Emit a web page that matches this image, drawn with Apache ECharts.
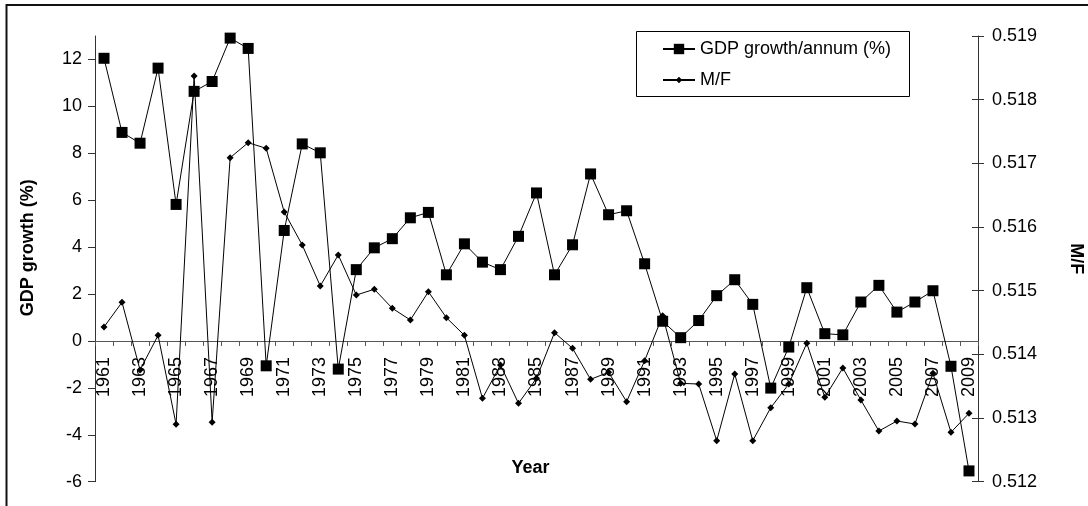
<!DOCTYPE html>
<html>
<head>
<meta charset="utf-8">
<style>
  html, body { margin: 0; padding: 0; background: #fff; }
  #chart { width: 1088px; height: 506px; }
</style>
<script src="https://cdn.jsdelivr.net/npm/echarts@6/dist/echarts.min.js"></script>
</head>
<body>
<div id="chart"></div>
<script>
// Years 1961-2009
const years = [];
for (let y = 1961; y <= 2009; y++) years.push(String(y));

// Annual GDP growth (%)
const gdpGrowth = [
  12.05, 8.89, 8.43, 11.63, 5.82, 10.64, 11.06, 12.91, 12.47, -1.06,
  4.71, 8.40, 8.02, -1.20, 3.04, 3.97, 4.36, 5.25, 5.48, 2.82,
  4.14, 3.36, 3.04, 4.46, 6.31, 2.82, 4.10, 7.12, 5.38, 5.55,
  3.29, 0.84, 0.14, 0.87, 1.93, 2.61, 1.56, -2.01, -0.26, 2.27,
  0.31, 0.26, 1.66, 2.37, 1.23, 1.66, 2.14, -1.08, -5.54
];

// Male / female ratio
const mfRatio = [
  0.514430, 0.514818, 0.513754, 0.514299, 0.512901, 0.518372, 0.512933, 0.517089, 0.517324, 0.517236,
  0.516236, 0.515718, 0.515074, 0.515561, 0.514932, 0.515022, 0.514723, 0.514540, 0.514984, 0.514576,
  0.514299, 0.513310, 0.513833, 0.513231, 0.513624, 0.514341, 0.514095, 0.513608, 0.513718, 0.513257,
  0.513900, 0.514607, 0.513545, 0.513534, 0.512644, 0.513692, 0.512644, 0.513162, 0.513534, 0.514174,
  0.513326, 0.513786, 0.513283, 0.512796, 0.512953, 0.512906, 0.513703, 0.512776, 0.513074
];

// Tick labels
const gdpTicks = [-6, -4, -2, 0, 2, 4, 6, 8, 10, 12];
const mfTicks = [0.512, 0.513, 0.514, 0.515, 0.516, 0.517, 0.518, 0.519];

const FONT = '"Liberation Sans", Arial, Helvetica, sans-serif';
const AXIS = '#333';

// Plot area and left-axis extent; the year axis is lifted to sit on GDP = 0
const GRID = { left: 95, right: 110, top: 36, bottom: 24.3 };
const GDP_MIN = -6, GDP_MAX = 13;
const plotHeight = 506 - GRID.top - GRID.bottom;
const zeroLift = plotHeight * (0 - GDP_MIN) / (GDP_MAX - GDP_MIN);

const chart = echarts.init(document.getElementById('chart'), null, { renderer: 'canvas' });

chart.setOption({
  backgroundColor: '#fff',
  animation: false,
  textStyle: { fontFamily: FONT, color: '#000' },
  grid: {
    left: GRID.left, right: GRID.right, top: GRID.top, bottom: GRID.bottom,
    containLabel: false,
    outerBoundsMode: 'none'
  },
  graphic: [
    {
      type: 'rect', silent: true, z: -10,
      shape: { x: 6.5, y: 5, width: 1200, height: 600 },
      style: { fill: 'none', stroke: '#111', lineWidth: 2 }
    },
    {
      type: 'rect', silent: true, z: 1,
      shape: { x: 636.5, y: 31.5, width: 273, height: 65 },
      style: { fill: '#fff', stroke: '#000', lineWidth: 1 }
    }
  ],
  legend: [
    {
      data: ['GDP growth/annum (%)'],
      left: 662, top: 40, padding: 0, z: 5,
      itemWidth: 32, itemHeight: 13, itemGap: 5,
      textStyle: { fontSize: 18, color: '#000', fontFamily: FONT }
    },
    {
      data: ['M/F'],
      left: 662, top: 71, padding: 0, z: 5,
      itemWidth: 32, itemHeight: 8, itemGap: 5,
      textStyle: { fontSize: 18, color: '#000', fontFamily: FONT }
    }
  ],
  xAxis: {
    type: 'category',
    data: years,
    boundaryGap: true,
    position: 'bottom',
    offset: -zeroLift,
    name: 'Year',
    nameLocation: 'middle',
    nameGap: 118,
    nameTextStyle: { fontSize: 18, fontWeight: 'bold', color: '#000', padding: [0, 12, 0, 0] },
    axisLine: { onZero: false, lineStyle: { color: '#555', width: 1 } },
    axisTick: { show: true, interval: 0, length: 5, lineStyle: { color: '#555' } },
    axisLabel: {
      interval: 1, rotate: 90, margin: 16,
      fontSize: 18, color: '#000', fontFamily: FONT
    },
    splitLine: { show: false }
  },
  yAxis: [
    {
      type: 'value',
      position: 'left',
      min: GDP_MIN, max: GDP_MAX, interval: 2,
      name: 'GDP growth (%)',
      nameLocation: 'middle',
      nameGap: 58,
      nameTextStyle: { fontSize: 18, fontWeight: 'bold', color: '#000', padding: [0, 0, 0, 22] },
      axisLine: { show: true, lineStyle: { color: AXIS, width: 1 } },
      axisTick: { show: true, length: 7, customValues: gdpTicks, lineStyle: { color: AXIS } },
      axisLabel: { customValues: gdpTicks, margin: 13, fontSize: 18, color: '#000', fontFamily: FONT },
      splitLine: { show: false }
    },
    {
      type: 'value',
      position: 'right',
      min: 0.512, max: 0.519, interval: 0.001,
      name: 'M/F',
      nameLocation: 'middle',
      nameRotate: -90,
      nameGap: 89,
      nameTextStyle: { fontSize: 18, fontWeight: 'bold', color: '#000' },
      axisLine: { show: true, lineStyle: { color: AXIS, width: 1 } },
      axisTick: { show: true, length: 6, customValues: mfTicks, lineStyle: { color: AXIS } },
      axisLabel: {
        customValues: mfTicks, margin: 14, fontSize: 18, color: '#000', fontFamily: FONT,
        formatter: v => Number(v).toFixed(3)
      },
      splitLine: { show: false }
    },
    {
      // inner half of the right-hand tick marks
      type: 'value',
      position: 'right',
      min: 0.512, max: 0.519, interval: 0.001,
      axisLine: { show: false },
      axisTick: { show: true, inside: true, length: 6, customValues: mfTicks, lineStyle: { color: AXIS } },
      axisLabel: { show: false },
      splitLine: { show: false }
    }
  ],
  series: [
    {
      name: 'GDP growth/annum (%)',
      type: 'line',
      yAxisIndex: 0,
      data: gdpGrowth,
      symbol: 'rect',
      symbolSize: 11,
      showAllSymbol: true,
      lineStyle: { color: '#000', width: 1 },
      itemStyle: { color: '#000', borderWidth: 0 },
      z: 3
    },
    {
      name: 'M/F',
      type: 'line',
      yAxisIndex: 1,
      data: mfRatio,
      symbol: 'diamond',
      symbolSize: 7,
      showAllSymbol: true,
      lineStyle: { color: '#000', width: 1 },
      itemStyle: { color: '#000', borderWidth: 0 },
      z: 4
    }
  ]
});
</script>
</body>
</html>
